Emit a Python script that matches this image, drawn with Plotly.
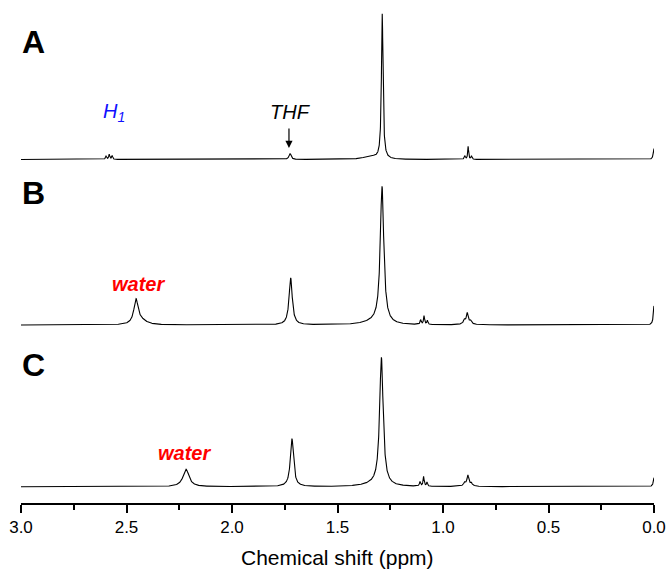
import numpy as np
import plotly.graph_objects as go

# ---- data: peak lists (ppm position, intensity, half width) ----
A_pos = [2.597, 2.582, 2.568, 1.725, 1.288, 1.345, 0.897, 0.881, 0.865, 0.000]
A_int = [3.5, 5.0, 3.8, 6.0, 145.0, 3.0, 3.5, 13.0, 3.5, 11.0]
A_hw = [0.003, 0.003, 0.003, 0.006, 0.0045, 0.035, 0.003, 0.0025, 0.003, 0.004]

B_pos = [2.455, 2.430, 1.722, 1.289, 1.330, 1.106, 1.090, 1.074, 0.885, 0.899, 0.885, 0.868, 0.000]
B_int = [24.0, 4.0, 47.0, 137.0, 2.5, 4.5, 8.5, 4.0, 4.5, 3.0, 7.5, 2.5, 19.0]
B_hw = [0.012, 0.030, 0.009, 0.010, 0.060, 0.003, 0.003, 0.003, 0.015, 0.004, 0.004, 0.004, 0.004]

C_pos = [2.218, 1.716, 1.292, 1.330, 1.109, 1.092, 1.076, 0.882, 0.898, 0.882, 0.865, 0.000]
C_int = [17.5, 48.0, 128.0, 2.0, 4.5, 9.5, 4.0, 4.0, 2.5, 7.5, 2.0, 9.0]
C_hw = [0.017, 0.009, 0.010, 0.060, 0.003, 0.003, 0.003, 0.015, 0.004, 0.004, 0.004, 0.004]

spectra_names = ["A", "B", "C"]
offsets = [343.5, 178.0, 16.3]

x_ticks = [3.0, 2.5, 2.0, 1.5, 1.0, 0.5, 0.0]
x_tick_labels = ["3.0", "2.5", "2.0", "1.5", "1.0", "0.5", "0.0"]

ppm = np.linspace(3.0, 0.0, 6001)


def spectrum(pos, inten, hw):
    y = np.zeros_like(ppm)
    for p, h, w in zip(pos, inten, hw):
        y += h * w * w / ((ppm - p) ** 2 + w * w)
    return y


peak_sets = [(A_pos, A_int, A_hw), (B_pos, B_int, B_hw), (C_pos, C_int, C_hw)]

FONT = "Arial, Liberation Sans, sans-serif"

fig = go.Figure()
for name, (p, h, w), off in zip(spectra_names, peak_sets, offsets):
    fig.add_trace(go.Scatter(
        x=ppm, y=spectrum(p, h, w) + off, mode="lines",
        line=dict(color="black", width=1.1), name=name, showlegend=False,
        hoverinfo="skip"))

annotations = []
# panel letters
for name, yc in zip(spectra_names, [461.0, 310.5, 138.0]):
    annotations.append(dict(x=-0.002, xref="paper", y=yc, yref="y",
                            text=f"<b>{name}</b>", showarrow=False,
                            xanchor="left", yanchor="middle",
                            font=dict(family=FONT, size=32, color="black")))
# peak labels
annotations.append(dict(x=2.56, y=391, xref="x", yref="y",
                        text="<i>H<sub>1</sub></i>", showarrow=False,
                        xanchor="center", yanchor="middle",
                        font=dict(family=FONT, size=20, color="#1010ff")))
annotations.append(dict(x=1.722, y=391, xref="x", yref="y",
                        text="<i>THF</i>", showarrow=False,
                        xanchor="center", yanchor="middle",
                        font=dict(family=FONT, size=20, color="black")))
annotations.append(dict(x=1.730, y=355, xref="x", yref="y", text=" ",
                        showarrow=True, ax=0, ay=-22, arrowhead=2,
                        arrowsize=1.2, arrowwidth=1.2, arrowcolor="black",
                        font=dict(family=FONT, size=2)))
annotations.append(dict(x=2.445, y=219, xref="x", yref="y",
                        text="<b><i>water</i></b>", showarrow=False,
                        xanchor="center", yanchor="middle",
                        font=dict(family=FONT, size=20, color="#ff0000")))
annotations.append(dict(x=2.225, y=50, xref="x", yref="y",
                        text="<b><i>water</i></b>", showarrow=False,
                        xanchor="center", yanchor="middle",
                        font=dict(family=FONT, size=20, color="#ff0000")))
# axis title
annotations.append(dict(x=0.5, xref="paper", y=-0.108, yref="paper",
                        text="Chemical shift (ppm)", showarrow=False,
                        xanchor="center", yanchor="middle",
                        font=dict(family=FONT, size=21, color="black")))

fig.update_layout(
    width=670, height=571,
    margin=dict(l=21, r=16, t=0, b=68, autoexpand=False),
    paper_bgcolor="white", plot_bgcolor="white",
    annotations=annotations,
    xaxis=dict(range=[3.0, 0.0], showgrid=False, zeroline=False,
               showline=True, linecolor="black", linewidth=1.5,
               ticks="outside", ticklen=8, tickwidth=1.5, tickcolor="black",
               tickvals=x_ticks, ticktext=x_tick_labels,
               tickfont=dict(family=FONT, size=17, color="black"),
               minor=dict(tickvals=[2.75, 2.25, 1.75, 1.25, 0.75, 0.25],
                          ticks="outside", ticklen=5, tickwidth=1.5,
                          tickcolor="black", showgrid=False)),
    yaxis=dict(range=[0, 503], visible=False, showgrid=False, zeroline=False),
)

fig.write_html("out.html", config={"displayModeBar": False},
               post_script="document.body.style.margin='0';document.body.style.padding='0';")
